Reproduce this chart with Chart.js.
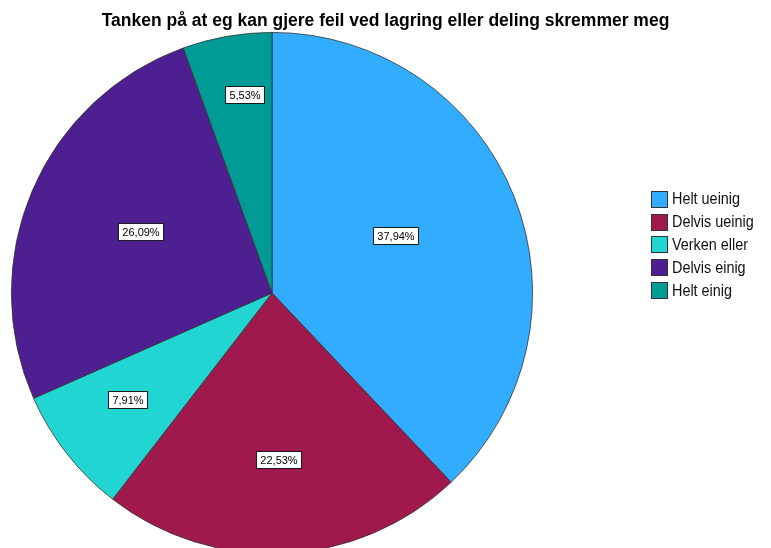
<!DOCTYPE html>
<html>
<head>
<meta charset="utf-8">
<script src="https://cdn.jsdelivr.net/npm/chart.js@4.4.1/dist/chart.umd.min.js"></script>
<style>
  html, body { margin: 0; padding: 0; background: #fff; overflow: hidden; }
  #wrap { position: relative; width: 771px; height: 560px; }
  #title { position: absolute; left: 0; top: 10px; width: 771px; text-align: center; font-family: "Liberation Sans", Arial, sans-serif; font-weight: bold; font-size: 17.5px; color: #000; white-space: nowrap; }
  #legend { position: absolute; left: 651px; top: 188px; font-family: "Liberation Sans", Arial, sans-serif; font-size: 16px; color: #111; }
  #legend div { height: 22.8px; display: flex; align-items: center; white-space: nowrap; }
  #legend span.box { display: inline-block; width: 15px; height: 15px; border: 1px solid #333; margin-right: 4px; flex: none; }
  #legend span.txt { display: inline-block; transform: scaleX(0.9); transform-origin: left center; }
</style>
</head>
<body>
<div id="wrap">
  <canvas id="chart" width="771" height="560"></canvas>
  <div id="title"></div>
  <div id="legend"></div>
</div>
<script>
// Categories and shares (percent)
const labels = ["Helt ueinig", "Delvis ueinig", "Verken eller", "Delvis einig", "Helt einig"];
const shares = [37.94, 22.53, 7.91, 26.09, 5.53];
const colors = ["#31acff", "#a0194c", "#21d6d2", "#4e1f91", "#009b95"];
const titleText = "Tanken på at eg kan gjere feil ved lagring eller deling skremmer meg";

// where each percent label sits: fraction of radius, and a small turn (degrees) off the bisector
const labelRadius = [0.524, 0.638, 0.689, 0.558, 0.768];
const labelTurn = [-3.2, 0.5, 1.8, 1.9, 2.0];

const pctLabels = {
  id: "pctLabels",
  afterDatasetsDraw(chart) {
    const ctx = chart.ctx;
    const meta = chart.getDatasetMeta(0);
    ctx.save();
    ctx.font = "11px 'Liberation Sans', Arial, sans-serif";
    ctx.textAlign = "center";
    ctx.textBaseline = "middle";
    meta.data.forEach((arc, i) => {
      const p = arc.getProps(["x", "y", "startAngle", "endAngle", "outerRadius"], true);
      const mid = (p.startAngle + p.endAngle) / 2 + labelTurn[i] * Math.PI / 180;
      const r = p.outerRadius * labelRadius[i];
      const cx = p.x + Math.cos(mid) * r;
      const cy = p.y + Math.sin(mid) * r;
      const txt = shares[i].toFixed(2).replace(".", ",") + "%";
      const w = Math.round(ctx.measureText(txt).width + 8);
      const h = 17;
      const x0 = Math.round(cx - w / 2) + 0.5;
      const y0 = Math.round(cy - h / 2) + 0.5;
      ctx.fillStyle = "#fff";
      ctx.fillRect(x0, y0, w, h);
      ctx.strokeStyle = "#1a1a1a";
      ctx.lineWidth = 1;
      ctx.strokeRect(x0, y0, w, h);
      ctx.fillStyle = "#000";
      ctx.fillText(txt, x0 + w / 2, y0 + h / 2 + 0.5);
    });
    ctx.restore();
  }
};

new Chart(document.getElementById("chart").getContext("2d"), {
  type: "pie",
  data: {
    labels: labels,
    datasets: [{
      data: shares,
      backgroundColor: colors,
      borderColor: "#333",
      borderWidth: 0.8
    }]
  },
  options: {
    responsive: false,
    animation: false,
    layout: { padding: { left: 11, right: 238, top: 31, bottom: 5 } },
    plugins: {
      legend: { display: false },
      tooltip: { enabled: false },
      title: { display: false }
    }
  },
  plugins: [pctLabels]
});

document.getElementById("title").textContent = titleText;

// legend built from the same arrays
const leg = document.getElementById("legend");
labels.forEach((lab, i) => {
  const row = document.createElement("div");
  const box = document.createElement("span");
  box.className = "box";
  box.style.background = colors[i];
  const t = document.createElement("span");
  t.className = "txt";
  t.textContent = lab;
  row.appendChild(box);
  row.appendChild(t);
  leg.appendChild(row);
});
</script>
</body>
</html>
